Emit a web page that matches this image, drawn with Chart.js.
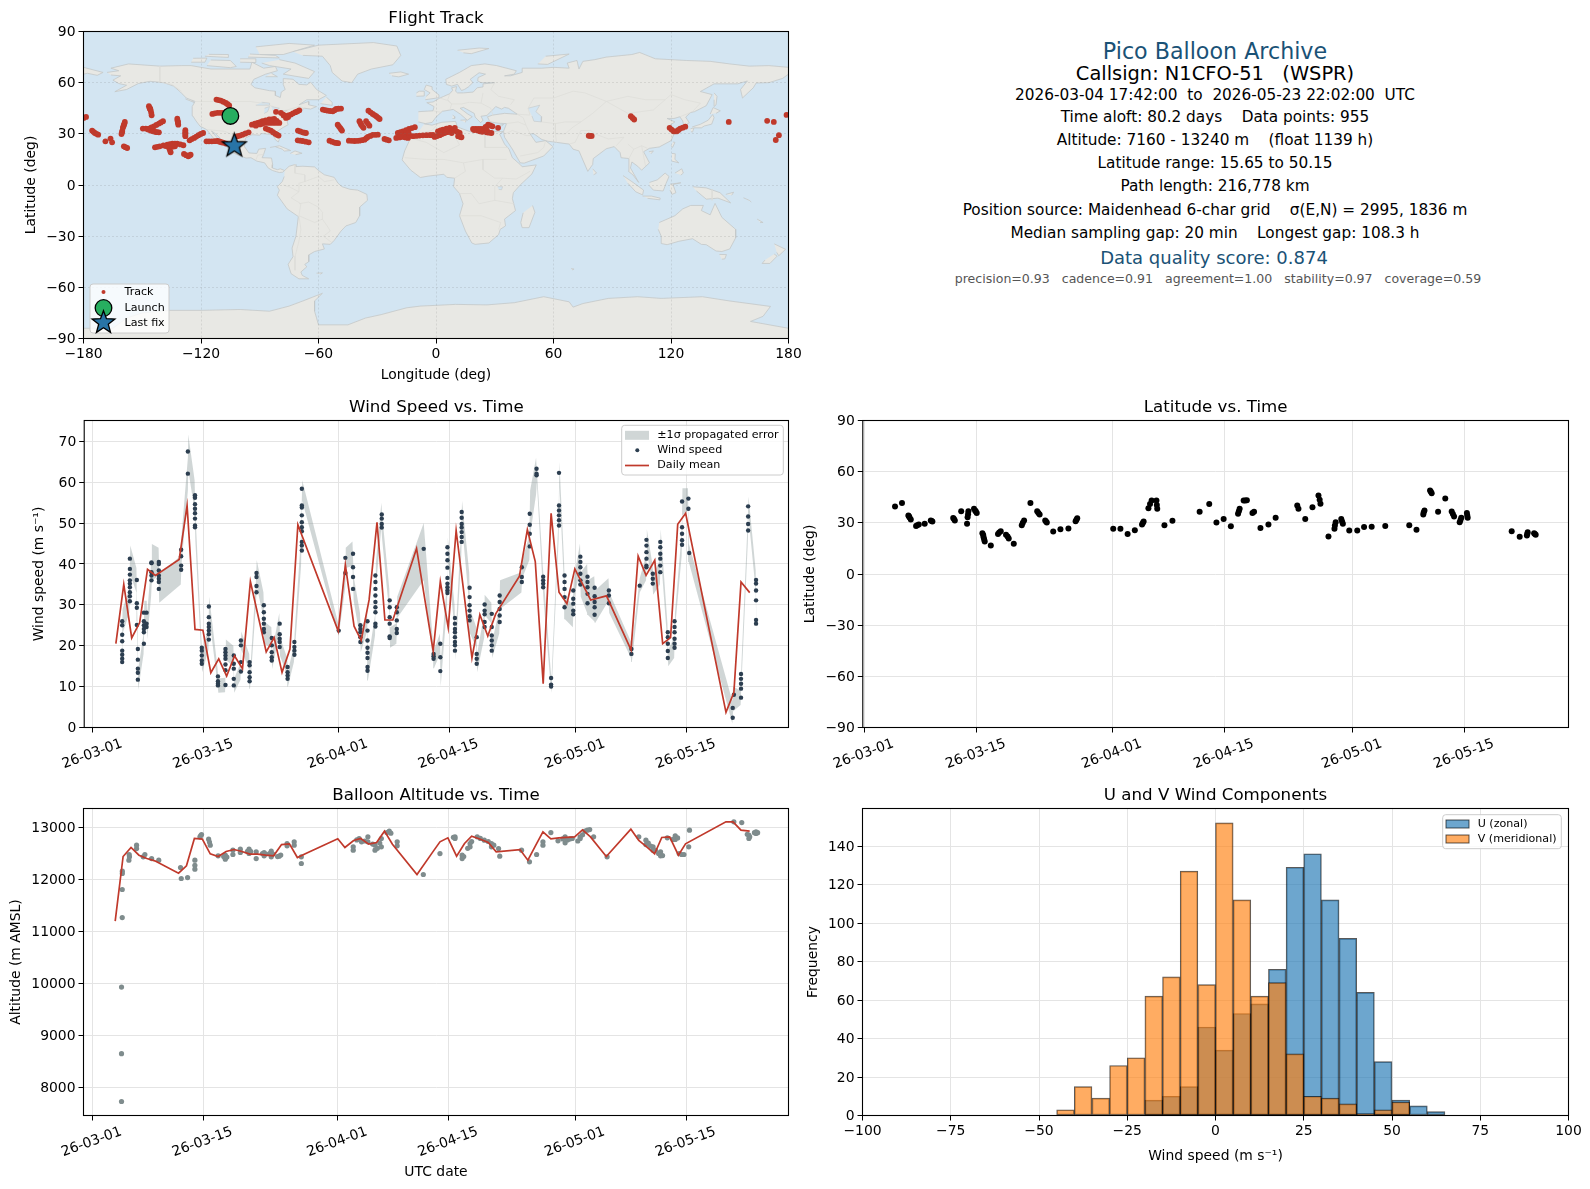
<!DOCTYPE html>
<html>
<head>
<meta charset="utf-8">
<title>Pico Balloon Archive</title>
<script src="https://cdn.jsdelivr.net/npm/chart.js@4/dist/chart.umd.min.js"></script>
<style>
  body { margin: 0; background: #fff; font-family: "DejaVu Sans", sans-serif; }
  canvas { position: absolute; }
  #info { position: absolute; left: 860px; width: 710px; top: 0; text-align: center; white-space: pre; }
  #info div { position: absolute; left: 0; right: 0; transform: translateY(-50%); font-size: 15.3px; color: #000; }
  #info .head { color: #1a5276; }
</style>
</head>
<body>
<div id="info">
  <div class="head" style="top:50.7px;font-size:22.2px">Pico Balloon Archive</div>
  <div style="top:73.3px;font-size:19.4px">Callsign: N1CFO-51   (WSPR)</div>
  <div style="top:94.7px">2026-03-04 17:42:00  to  2026-05-23 22:02:00  UTC</div>
  <div style="top:117.3px">Time aloft: 80.2 days    Data points: 955</div>
  <div style="top:140.3px">Altitude: 7160 - 13240 m    (float 1139 h)</div>
  <div style="top:163.3px">Latitude range: 15.65 to 50.15</div>
  <div style="top:186.3px">Path length: 216,778 km</div>
  <div style="top:209.7px">Position source: Maidenhead 6-char grid    σ(E,N) = 2995, 1836 m</div>
  <div style="top:232.7px">Median sampling gap: 20 min    Longest gap: 108.3 h</div>
  <div class="head" style="top:257px;font-size:18px;right:2px">Data quality score: 0.874</div>
  <div style="top:277.7px;font-size:12.55px;color:#555;left:6px">precision=0.93   cadence=0.91   agreement=1.00   stability=0.97   coverage=0.59</div>
</div>
<script>
// date axis: days since 2026-03-01
const dateTickDays = [0, 14, 31, 45, 61, 75];
const dateTickLabels = ["26-03-01", "26-03-15", "26-04-01", "26-04-15", "26-05-01", "26-05-15"];
const altTicks = [8000, 9000, 10000, 11000, 12000, 13000];

// flight track (lon, lat)
const trackLon = [
  -179.9,-178.7,-175.6,-174.2,-172.5,-168.8,-166.2,-165.4,-160.6,-160.2,-159.9,-159.4,-158.9,-159.4,-157.7,
  -146.6,-146.1,-145.7,-145.4,-145.2,-149.7,-146.6,-144,-141.5,-139.4,-145.7,-143.2,-141.5,-132.1,-131.8,-131.6,
  -128,-128,-128,-125.8,-123.5,-121.3,-118.9,-143.5,-141.1,-137.2,-134.6,-132.1,-129,-136.3,-135.5,-133.3,
  -128.7,-126.5,-125.3,-117.2,-114.5,-111.6,-109.9,-107.3,-101.4,-98.8,-95.7,-114.2,-111.6,-109,
  -112.1,-109.9,-107.3,-105.6,-94,-91.1,-88.6,-85.2,-82.6,-80,-83.4,-86.9,
  -81.7,-79.2,-76.6,-74.1,-71.8,-69.8,-76.6,-86.9,-84.3,-82.1,-80.4,-70.5,-68.1,-66.4,-70.6,-68.1,-65,
  -57.8,-55.3,-52.7,-51,-48.5,-50.2,-49,-48,-54.4,-51.9,-50,-44.5,-41.6,-39.1,-36.5,-34.8,-32.3,-29.7,
  -39.1,-38.2,-37,-35.7,-34,-34.5,-32.3,-30.5,-28.8,-26.3,-24.1,-20.3,-16.9,-14.3,-19.5,-16.9,-13.8,-10.8,
  -15.2,-11.8,-8.4,-4.9,-1.5,-2.7,-0.7,1.9,4.4,7,9.6,1,3.6,7,10.4,12.1,11.3,13,
  18.9,21.5,24.1,26.6,28.8,22.4,25.8,28.3,20.6,24.9,31.7,78.7,99.5,101.2,
  119.3,121.3,123,124.7,127.3,149.5,169.1,172.5,175.1,173.5,179,
  -174.9,-173.4,-160.3,-159.6,-159.1,-158.6,-146.2,-145.9,-148.2,-145.3,-142.8,-140.5,-144.5,-142.4,-147,
  -132,-131.8,-128,-128,-124.7,-122.4,-120.1,-142.3,-139.2,-135.9,-133.3,-130.5,-135.9,-136.8,-138,-134.5,-133.5,-135.5,
  -127.6,-125.9,-115.9,-113,-110.8,-108.6,-100.1,-97.3,-113,-110.3,-111,-108.6,-106.4,
  -92.5,-89.8,-87,-83.9,-81.3,-81.7,-85.1,-88.7,-90,-92,-78,-75.4,-73,-70.8,-77.8,-75.5,-85.6,-83.2,-81.2,
  -69.3,-67.2,-69.3,-66.5,-56.5,-54,-51.8,-49.8,-49.6,-48.5,-53.1,-50.9,-43,-40.3,-37.8,-35.6,-33.5,-31,
  -38.6,-37.6,-34.8,-33.4,-31.4,-29.6,-25.2,-18.6,-15.6,-18.2,-15.3,-12.3,-13.5,-10.1,-6.7,-3.2,-18,-14,
  0.6,3.1,5.7,8.3,2.3,5.3,8.7,11.2,12.2,2,5,8,20.2,22.8,25.3,27.7,21.4,23.6,27,22,26,19.5,79.5,78,100.4,120.3,122.1,123.8,126
];
const trackLat = [
  39.3,39.9,31.9,30.5,29.5,25.6,27.2,25,29.9,31.7,33.5,35.2,37,22.7,21.7,
  46.2,45,43.8,42.3,40.9,33.1,33.1,34.4,36,37.4,31.9,31.1,30.9,38.9,37.2,35.4,
  32.1,30.3,28.6,26.2,27.6,29.2,30.5,22.1,22.7,23.7,24.3,24.3,23.3,21.7,19.2,22.7,
  18.2,16.8,17.8,25.6,25.6,25.8,25.2,24.3,28.6,29.5,30.9,41.7,42.3,42.3,
  50.1,49.5,48.1,46.6,35.4,36.4,37.4,38.4,38.7,36.4,36.4,36.4,
  42.9,42.3,40.3,41.3,42.7,43.8,39.3,33.1,31.9,30.1,29,31.9,30.9,30.5,26.2,25.8,25,
  44.2,43.6,43.2,44.6,44.8,35.4,33.5,31.9,26,24.9,24.5,26,25.8,26,26.6,28.2,29.4,29.5,
  37.4,35.4,33.5,37.4,34.8,43.6,41.7,40.3,38.7,27,26.2,27.6,28.2,27.6,30.5,31.5,32.9,33.9,
  29.5,28.6,29,29.2,29.4,29.2,28.2,29.2,30.5,31.5,33.5,31.5,32.5,33.5,31.5,30.5,28.6,28,
  32.9,32.9,32.9,35.4,34.4,31.5,30.9,30.5,32.5,32.1,33.5,28.8,40.3,38.4,
  33.5,31.5,31.5,33.1,34.2,37,37.6,37,29.2,26.4,41.1,
  31.2,30,31,34.5,36,22.2,45,44.5,33.1,33.8,35.2,36.7,31.5,31,32.5,
  37.8,36.5,31,29.5,26.9,28.4,29.9,22.4,23.2,24,24.3,23.8,20.5,22.7,22.8,22.5,23.5,23,
  17.5,17.3,25.6,25.7,25.5,24.8,29,30.2,42,42.3,49.8,48.8,47.4,
  35.9,36.9,37.9,38.5,37.6,36.4,36.4,35.9,35.5,34.8,41.3,40.8,42,43.2,40.8,39.8,32.5,31,29.5,
  31.4,30.7,26,25.4,43.9,43.4,43.9,44.7,34.4,32.7,25.4,24.7,25.9,25.9,26.3,27.4,28.8,29.4,
  36.4,34.4,36,42.6,41,39.5,26.6,27.9,27.9,31,32.2,33.4,29,28.8,29.1,29.3,29,30.5,
  28.7,29.9,31,32.5,32,33,32.5,31,28.3,30.5,31.5,30.5,32.9,32.9,34,34.9,32,31.2,30.7,32.4,32,32.2,28.8,28.9,39.3,32.5,31.5,32.3,33.6
];
const launchLon = [-105], launchLat = [40.5];
const lastFixLon = [-103], lastFixLat = [23];

// wind speed fixes
const windDays = [
  3.7,3.7,3.7,3.7,3.7,3.7,3.7,3.7,
  4.67,4.67,4.67,4.67,4.67,4.67,4.67,4.67,4.67,
  5.55,5.55,5.55,5.55,
  5.68,5.68,5.68,5.68,5.68,
  6.44,6.44,6.44,6.44,6.44,6.44,
  6.78,6.78,6.78,
  7.4,7.4,7.4,7.4,7.4,
  8.33,8.33,8.33,8.33,8.33,8.33,8.33,
  11.15,11.15,11.15,11.15,
  12,12,
  12.9,12.9,12.9,12.9,12.9,12.9,12.9,12.9,
  13.76,13.76,13.76,13.76,13.76,
  14.65,14.65,14.65,14.65,14.65,14.65,14.65,
  15.8,15.8,15.8,15.8,
  16.75,16.75,16.75,16.75,16.75,16.75,16.75,
  17.8,17.8,17.8,17.8,17.8,
  18.7,18.7,18.7,18.7,
  19.8,19.8,19.8,19.8,19.8,
  20.67,20.67,20.67,20.67,
  21.6,21.6,21.6,21.6,21.6,21.6,
  22.6,22.6,22.6,22.6,22.6,
  23.6,23.6,23.6,23.6,23.6,
  24.6,24.6,24.6,24.6,
  25.46,25.46,25.46,25.46,
  26.4,26.4,26.4,26.4,26.4,26.4,26.4,26.4,26.4,26.4,
  31.06,
  31.9,31.9,
  32.87,32.87,32.87,32.87,
  33.8,33.8,33.8,33.8,33.8,
  34.7,34.7,34.7,34.7,34.7,34.7,34.7,34.7,
  35.7,35.7,35.7,35.7,35.7,35.7,35.7,35.7,35.7,
  36.5,36.5,36.5,36.5,
  37.5,37.5,37.5,37.5,37.5,37.5,
  38.4,38.4,38.4,38.4,38.4,
  41.8,
  43.05,43.05,43.05,
  43.9,43.9,43.9,
  44.8,44.8,44.8,44.8,44.8,44.8,44.8,44.8,44.8,
  45.75,45.75,45.75,45.75,45.75,45.75,45.75,45.75,
  46.6,46.6,46.6,46.6,46.6,46.6,46.6,
  47.6,47.6,47.6,47.6,47.6,47.6,
  48.5,48.5,48.5,48.5,
  49.5,49.5,49.5,49.5,49.5,
  50.4,50.4,50.4,50.4,50.4,50.4,
  51.4,51.4,51.4,51.4,51.4,
  54.2,54.2,54.2,
  55.2,55.2,55.2,55.2,
  56.06,56.06,56.06,
  56.9,56.9,56.9,56.9,
  57.9,57.9,57.9,
  58.9,58.9,58.9,58.9,58.9,58.9,
  59.6,59.6,59.6,59.6,59.6,
  60.7,60.7,60.7,60.7,60.7,
  61.6,61.6,61.6,61.6,61.6,61.6,
  62.5,62.5,62.5,62.5,62.5,
  63.4,63.4,63.4,63.4,63.4,
  65.2,65.2,65.2,
  68.05,68.05,
  69.1,
  69.95,69.95,69.95,69.95,69.95,69.95,
  70.75,70.75,70.75,
  71.7,71.7,71.7,71.7,71.7,71.7,
  72.65,72.65,72.65,72.65,72.65,
  73.5,73.5,73.5,73.5,73.5,73.5,
  74.45,74.45,74.45,74.45,74.45,
  75.25,75.25,75.35,
  80.85,80.85,81,
  81.9,81.9,81.9,81.9,81.9,
  82.8,82.8,82.8,82.8,
  83.8,83.8,83.8,83.8,83.8,83.8
];
const windSpeed = [
  26,25,22.7,21.1,18.8,17.8,16.8,16,
  41.3,38.8,37.4,36,35.2,34.3,33.1,32.1,30.9,
  36.1,30.4,29.3,25.1,
  19.2,16.6,14.4,13.4,11.7,
  20.5,23.3,24.1,25,26,28.1,
  28.1,25.4,24.6,
  40.4,40.2,38,37.2,36,
  40.5,40,38.4,37.2,36.4,35.6,33.9,
  43.5,41.9,39.6,38.6,
  67.5,62.1,
  56.8,56.2,54.6,53.5,52.4,51.1,49.4,49,
  19.5,18.8,17.6,16.4,15.6,
  29.6,27,25.4,24.6,23.7,22.8,21.5,
  12.5,11.3,10.7,10.3,
  19.2,18.4,17.6,16.8,15.4,14,10.4,
  17.6,15.6,14.4,11.9,10.3,
  21.3,20.1,16,13.7,
  16,15.2,13.5,12.3,11.3,
  37.8,36.8,34.6,33.1,
  29.9,28.2,26.6,25.4,24.1,23.3,
  21.9,20.1,18.4,17.2,16.4,
  25.4,22.8,21.7,20.9,19.7,
  14.8,13.5,12.7,11.9,
  20.9,19.7,18.8,17.8,
  58.4,54.3,53.8,51.9,50.2,49,48,45.4,44.5,43.3,
  23.7,
  41.5,37.8,
  42.5,39.2,36.8,33.9,
  25,24.1,23.3,22.1,20.9,
  26,23.7,21.3,19.5,18.3,17,14.8,13.9,
  37.2,35.6,33.9,32.3,30.7,29.4,28.2,25.4,24.7,
  52.1,51.1,49.8,48.9,
  31.1,29.4,27,25.4,22.3,21.9,
  29.4,28.2,26.2,24.1,23.1,
  43.7,
  18,17.4,16.8,
  20.5,17.2,13.8,
  44.1,42.5,40.9,39.1,36.6,35.2,34.3,33.5,32.9,
  26.8,25.4,24.1,23.3,22.1,20.9,20.1,18.8,
  52.7,51.3,49.8,48.9,47.8,46.6,45.4,
  34.2,31.9,29.9,28.6,27.2,26.2,
  22.1,18,16.8,15.6,
  30.1,28.6,27.7,25.8,24.6,
  27.8,24.6,22.5,21.3,20.1,18.8,
  32.3,30.7,29,27.4,25.8,
  39.2,36.8,35.6,
  52.3,49.6,47.4,44.3,
  63.3,62.1,61.7,
  36.9,36,35.2,34.3,
  12.1,10.5,10,
  62.3,54.3,53.1,51.9,50.7,49.4,
  37.2,35.6,33.9,31.9,29.4,
  33.5,31.5,30.3,28.6,27.7,
  41.8,40.5,39.2,37.6,36,35,
  36.9,35.6,34.3,32.7,30.4,
  34.2,32.1,30.7,29.4,27.6,
  33.5,32.3,30.4,
  19.2,18,
  34.7,
  45.9,44.5,42.9,41.3,39.6,39.2,
  37.6,36.4,35.2,
  45.4,44.1,42.5,41.3,39.6,38,
  23.3,22.1,20.5,18.7,17,
  26,24.6,23.3,21.7,20.5,19.5,
  55.3,49,47.4,45.8,44.7,
  56,53.5,42.7,
  4.8,2.4,8,
  13.1,11.9,10.7,9.5,7.3,
  54.1,51.6,49.8,48.2,
  36.1,35.2,33.5,31.1,26.3,25.4
];

// +/- 1 sigma envelope
const bandDays = [
  3.65,3.75,4.6,4.72,5.5,5.55,5.68,5.72,6.4,6.5,6.8,6.85,7.35,7.45,8.3,8.38,11.1,11.2,12,12.05,12.85,12.95,
  13.7,13.8,14.6,14.7,15.75,15.85,16.7,16.8,17.75,17.85,18.65,18.75,19.75,19.85,20.6,20.7,21.55,21.65,22.55,22.65,
  23.55,23.65,24.55,24.65,25.4,25.5,26.3,26.45,31.06,31.9,31.95,32.8,32.95,33.75,33.85,34.65,34.75,35.65,35.75,
  36.45,36.55,37.45,37.55,38.35,38.45,41.8,43,43.1,43.85,43.95,44.75,44.85,45.7,45.8,46.55,46.65,47.55,47.65,
  48.45,48.55,49.45,49.5,50.35,50.45,51.35,51.45,54.15,54.25,55.15,55.25,56,56.1,56.85,56.95,57.85,57.95,58.85,58.95,
  59.55,59.65,60.65,60.75,61.55,61.65,62.45,62.55,63.35,63.45,65.15,65.25,68,68.1,69.1,69.9,70,70.7,70.8,71.65,71.75,
  72.6,72.7,73.45,73.55,74.4,74.5,75.2,75.3,80.8,80.9,81.85,81.95,82.75,82.85,83.75,83.85
];
const bandUpper = [
  18.5,29,34,44.5,39,32,22,14.2,23,31,31,27.6,40,44.9,44,37.5,42,47,66,71.7,60.5,52.5,
  22,18,25,32,14.5,12,12.2,21.5,20,12,15.7,23.5,18,13,36,41,33,26,24.5,18.5,
  28,22,17,13.8,20,23.5,47,60.5,25,41,44,45.5,37,28,23.5,28.5,16,27.5,40,
  55,52,34,24.5,25.5,32,50,20,19,23,16,36,46.5,30,21.5,49,55.5,38,29,
  24.5,18,28,32.5,30.5,21,29,36,38,41,47,58,66,66,39.5,37,14,12,52,65,
  40,32,30,36,45,38,40,36,37,33.5,36.5,33,21,20,36.5,42,48.5,40,37.5,41,48.5,
  25.5,19,22,28,47.5,58.5,58.5,45,6.5,10,9,15.5,51,56.5,38.5,28
];
const bandLower = [
  13.5,23,28,37.5,33,26,16,9.2,18,25,25,21.6,32,36,37,30.5,35,40,58,63,53,45.5,
  17,13.5,19,27,10.5,8.5,8.6,16.5,15,8.5,11.7,19,14,9.5,30,34.5,27,20.5,19.5,14.3,
  23,17.5,12.8,10,16,18.5,39.5,55.5,22.4,34.5,39,39.5,31,22,18.5,23.5,11.5,22.5,34,
  49,46,28,19.5,20.5,26.8,36,16,14.5,18,10,30,41,24,16.5,42,49.5,30,23,
  19.5,13.5,22,27.5,25.5,17,23,29,33,36.5,41,47,57,60,34,31,10,8.5,46,59,
  34,26.5,24.5,31,38.5,32,28,27.5,26,25.5,31,28,17,16,33,36,43,35,32.5,35,42.5,
  20.5,15,17,24,42,52,53,40.5,1,4,5.5,10.5,45,51.5,33.5,23
];

// daily mean wind
const meanWindDays = [
  2.9,3.9,4.9,5.9,6.9,7.9,10.9,11.9,12.9,13.9,14.9,15.9,16.9,17.9,18.9,19.9,21.9,22.9,23.9,24.9,25.9,
  31,31.9,33,33.9,34.9,35.9,36.9,37.9,40.9,43,43.9,44.9,45.9,47.9,48.9,49.9,50.9,53.9,54.9,55.9,56.9,57.9,58.9,59.9,
  60.9,62.9,64.9,68,68.9,69.9,71,72,73,73.9,74.9,80,81,81.9,83
];
const meanWind = [
  20.5,35,21.9,25.6,38.7,37.2,41.1,54.3,24,23.8,13.4,16.8,12.6,17.5,14.4,35.7,18.5,22,13.5,19.2,49.6,
  23.6,39.8,24.8,21.3,31.2,50.2,26.3,26.3,43.8,18.7,35.7,24.4,48.2,17,27.6,22.4,27.8,37,48.4,40.6,10.7,52.4,33.1,30.3,
  38.8,31.2,32.2,19,41.9,37.2,40.9,20.5,22,49.7,52.4,3.7,8.6,35.6,33
];

// latitude fixes
const latDays = [
  3.83,4.7,5.5,5.65,5.8,6.46,6.8,7.54,8.3,8.5,11.1,11.3,12.1,13,12.96,12.9,12.83,13.7,13.9,14.04,
  14.75,14.9,15.04,15.8,16.7,17.04,17.7,17.9,18.04,18.67,19.67,19.8,19.96,20.75,21.6,21.9,22.6,22.8,23.6,24.5,25.5,26.4,26.6,
  31.1,32,32.9,33.8,34.7,34.9,35.5,35.7,35.9,36.5,36.55,36.6,37.5,38.5,
  41.9,43.1,44,44.9,45.8,46.7,46.9,47.6,48.5,49.5,50.5,51.4,54.1,54.25,55.1,56,56.75,56.9,57,58,58.75,58.9,59.6,59.8,
  60.6,61.6,62.45,63.4,65.1,68.1,69,69.85,70,70.7,70.9,71.7,72.6,73.4,73.7,74.4,74.6,75.3,75.4,80.9,81.9,82.8,82.9,83.7,83.9,
  6.6,8.4,11.2,16.85,21.75,22.7,26.5,34.8,46.8,58.8,59.7,69.9,70.8,73.55,74.5,75.35,82.85,83.8,14.85,14.97,13.87,5.57,48.7,47.4,47.8
];
const latValues = [
  39.6,41.7,34.3,33.2,32,28.2,29,29.4,31.4,30.8,32.9,31.4,36.8,36.8,35,33.3,29.4,38.2,37,35.7,
  23.9,21.6,19,16.7,23.5,25.1,23,22,20.8,17.7,28.6,30,31.4,41.7,36.8,34.9,31.4,30.2,24.9,26.3,26.7,31,32.7,
  26.5,26.5,23.5,25.7,29,30.8,38.6,41,43.1,43.1,40.5,38.2,28.6,31.2,
  36.5,41,30.2,32.2,28,35.3,38.2,43.1,35.7,27,29,33,40.2,38.2,32.3,39.2,46,43.5,41.2,22,26.5,30.4,32.3,29.4,
  25.5,25.5,27.5,27.7,28.2,28.6,25.9,34.9,37.2,49,47.4,36.5,44.3,36.7,33.7,30.4,33,35.7,33,25,21.8,22.6,24.5,23.9,23,
  28.6,31.1,32.2,24.3,35.8,30.8,31.8,29.9,36.8,28.5,30.8,36,48.2,35.2,31.7,34.3,23.5,23.4,22.8,20.3,36.9,33.8,36.5,43.1,43.3
];

// altitude fixes
const altDays = [
  3.7,3.7,3.7,3.79,3.79,3.8,3.8,4.63,4.7,4.67,5.6,5.6,6.65,6.44,7.5,8.4,11.15,11.24,12.04,12.96,12.96,12.96,13.8,13.6,14.7,14.9,
  15.9,16.8,16.8,17.76,17.76,18.7,18.7,19.8,19.8,20.7,20.7,21.7,21.7,22.6,22.6,23.6,24.6,24.6,25.5,25.5,26.4,26.4,
  32.95,32.95,33.7,34,34.8,34.8,35.7,35.7,36.5,36.5,37.5,37.2,38.5,38.5,41.8,
  43.9,45.8,45.8,46.7,46.7,47.7,47.7,48.6,49.5,50.4,50.4,51.3,51.45,54.2,55.2,56.1,56.9,56.9,57.9,58.8,59.7,59.7,60.6,61.6,61.6,62.5,63.3,65,
  69,69.9,69.9,70.8,70.8,71.75,71.75,72.6,73.6,73.6,74.4,75.3,75.4,81,82,82.9,82.9,83.8,83.8,
  14.8,13.7,16.6,17,19.6,20,21.5,21.9,22.4,22.8,23.4,23.8,33.4,34.4,35.4,36,36.3,37.7,
  45.6,46.9,47.4,47.9,49,50,50.7,59.4,60,60.3,61.3,61.9,62.2,62.8,70.2,70.5,71.1,71.5,72,73.3,73.9,74.1,74.7,83,83.6,84,82.7
];
const altValues = [
  9930,8650,7730,11268,11807,12115,12160,12371,12435,12480,12660,12595,12480,12435,12403,12371,12230,12019,12037,12371,12273,12198,12865,12820,12775,12660,
  12455,12467,12390,12563,12480,12583,12519,12583,12500,12531,12403,12519,12455,12544,12435,12448,12692,12647,12724,12660,12435,12307,
  12628,12563,12788,12724,12820,12724,12660,12563,12788,12628,12929,12903,12724,12647,12096,
  12499,12820,12790,12467,12403,12692,12628,12820,12756,12692,12628,12595,12448,12563,12339,12480,12724,12660,12903,12743,12820,12705,12788,12820,12790,12948,12820,12435,
  12820,12756,12672,12628,12563,12531,12455,12801,12839,12769,12480,12628,12948,13108,13095,12852,12788,12916,12884,
  12720,12845,12440,12430,12540,12540,12500,12490,12500,12490,12440,12470,12760,12740,12680,12600,12700,12890,
  12810,12440,12600,12730,12790,12730,12660,12780,12760,12780,12740,12860,12930,12960,12700,12640,12560,12500,12460,12770,12800,12500,12480,12820,12900,12900,12870
];

// daily mean altitude
const meanAltDays = [
  2.9,3.9,4.9,5.9,6.9,7.9,10.9,11.9,12.9,13.9,14.9,15.9,16.9,17.9,18.9,19.9,20.9,21.9,22.9,23.9,24.9,25.9,26.9,
  31,31.9,33,33.9,34.9,35.9,36.9,37.9,41,43,43.9,44.9,46,47,47.9,49,50,51,54,55,56,56.9,57.9,58.9,60.9,61.9,62.9,
  64.9,68,69,70,71,71.9,72.9,74,74.9,80,80.9,81.9,83
];
const meanAlt = [
  11198,12442,12615,12467,12403,12358,12121,12262,12788,12775,12493,12442,12538,12576,12538,12487,12487,12467,12455,12672,12685,12422,12493,
  12782,12615,12749,12788,12679,12711,12929,12679,12096,12531,12724,12801,12448,12692,12833,12775,12711,12531,12576,12371,12660,12916,12781,12801,12820,12954,12820,
  12442,12967,12749,12628,12493,12807,12820,12467,12685,13108,13108,12948,12929
];

// wind component histogram, 5 m/s bins
const binCenters = [-47.5,-42.5,-37.5,-32.5,-27.5,-22.5,-17.5,-12.5,-7.5,-2.5,2.5,7.5,12.5,17.5,22.5,27.5,32.5,37.5,42.5,47.5,52.5,57.5,62.5];
const uCounts = [0,0,0,0,0,0,8,10,15,46,34,53,58,76,129,136,112,92,64,28,8,5,2];
const vCounts = [0,3,15,9,26,30,62,72,127,68,152,112,62,69,32,10,9,6,1,3,7,0,0];

// coastlines (lon, lat)
const northAmerica = [[-168,66],[-162,67],[-166,68.5],[-157,71],[-141,69.7],[-130,70],[-125,70],[-115,68],[-108,68],[-95,68],[-94,72],[-88,68.5],[-82,69.5],[-81,67],[-87,65],[-93,62],[-94.5,59],[-92.5,57],[-85,55.3],[-82,55],[-82,52.5],[-79.5,51.3],[-79,54.5],[-77,56],[-78,59],[-78,62.4],[-73,62],[-70,59],[-66,58.7],[-64,60.3],[-61,56],[-56,52.5],[-60,50],[-66,50],[-70,47],[-65,49],[-65,47],[-61,46],[-64,44.5],[-67,45],[-70,43.5],[-70,41.7],[-74,40.5],[-76,37],[-75.5,35.3],[-78,33.8],[-81,31.5],[-80,26.8],[-80.5,25.2],[-82,26.5],[-83,29],[-85,29.7],[-89,30.2],[-90,29.2],[-94,29.5],[-97.3,27.5],[-97.8,22.5],[-95.5,18.8],[-91.5,18.5],[-90.5,21],[-87,21.5],[-88,18],[-88.8,16],[-84,15.8],[-83.4,12],[-83.6,10],[-81,9],[-79.5,9.5],[-77.3,8.5],[-78.3,7.5],[-80,7.3],[-81.5,7.8],[-83.5,8.5],[-85.7,10],[-87.5,13],[-91.5,14],[-94.5,16],[-97,15.8],[-102,18],[-105.5,20],[-105.5,22.5],[-109,26],[-112.5,30],[-114.7,31.7],[-112,28],[-109.5,23],[-112,25],[-115,29.5],[-117.1,32.5],[-120.5,34.5],[-122.5,37.5],[-124.2,40.5],[-124.5,46],[-123,49],[-127.5,51],[-130.5,54.5],[-134,58],[-139,60],[-146,60.8],[-152,59.5],[-158,56],[-164,54.7],[-158,58.5],[-162,59.5],[-165,61.5],[-161,64],[-166,64.5]];
const greenland = [[-73,78.2],[-60,82],[-32,83.5],[-20,81.5],[-18,76],[-22,70.5],[-33,68],[-40,65],[-43,60],[-48,61],[-53,66],[-54,70],[-58,75.5],[-68,76]];
const southAmerica = [[-77.3,8.5],[-75,11],[-72,12],[-71.5,10.8],[-68,11],[-62,10.6],[-60,8.5],[-57,6],[-52,4.5],[-50,1],[-48,-1],[-44,-2.5],[-40,-3],[-35.3,-5.5],[-35,-9],[-39,-13],[-39,-18],[-41,-22],[-46,-24],[-48.5,-27],[-52,-32.5],[-54,-34.8],[-58,-34.5],[-57,-37.5],[-62,-39],[-65,-41],[-65,-45],[-67,-46.5],[-66,-48],[-69,-51],[-68.3,-53],[-65,-55],[-70,-55],[-74,-52],[-75.5,-46.5],[-73,-42],[-73.5,-37],[-71.5,-30],[-70.3,-18.5],[-76,-14],[-81,-6],[-80,-3],[-81,-1],[-78.5,2],[-77.5,5]];
const africa = [[-6,35.8],[-2,35.1],[3,36.8],[10,37.3],[11,34],[15,32.3],[19.5,30.5],[20,32.8],[25,31.7],[32,31.2],[34.3,31.3],[32.5,29.8],[35,24],[37.3,21],[39,16],[43,12],[44,10.7],[51.2,11.8],[49,6.5],[43,0],[39.5,-4.5],[39,-8],[40.6,-15],[35,-20],[35.5,-24],[32.8,-26],[32,-29],[27,-34],[20,-34.8],[18.3,-34],[15,-27],[12,-18],[13.8,-11],[12,-5],[9,-1],[9.5,4],[5.5,4.5],[4,6.3],[-4,5.2],[-8,4.4],[-13,8.8],[-17.3,14.7],[-16,20],[-13,27.5],[-9.7,30]];
const eurasia = [[-9,43],[-1.5,43.5],[-1,46],[-4.7,48.3],[-1.5,48.7],[2,51],[4,52],[7,53.5],[8.5,55.5],[8,57],[10.5,57.7],[10,55],[11,54],[14,54],[19,54.5],[21,57],[24,57.5],[24,59.3],[30,60],[23,60],[21.3,61],[21.5,63],[25.3,65],[22,65.8],[17.5,62],[18.8,60],[16.5,57.5],[14.5,56],[13,55.4],[11,59],[8,58],[5.3,59],[5,62],[12,66],[18,70],[25,71],[31,70],[41,67],[40,65],[35,64],[38,64],[44,66],[44,68.5],[54,68.5],[60,69],[68,68.5],[67,71.5],[72,73],[73,68],[75,72.5],[81,73.5],[87,75],[100,76.5],[104,77.7],[112,74],[128,73],[140,72.5],[150,71],[160,69.7],[170,70],[180,69],[180,65],[177,62.5],[170,60],[163.5,59.8],[162,57],[156.5,51],[155.5,56],[159,61],[154,59.3],[142,59.3],[135,54.8],[141,53],[138,46.5],[132,43],[130,42.5],[127.5,39.8],[129.3,36.5],[126.5,34.5],[126,37.5],[124.5,40],[121.5,39],[118,39],[122,37],[119.3,35],[122,31],[120,26],[114,22.3],[109,21.5],[106,19.5],[109,13],[105,8.7],[103,11],[100,13.5],[99.3,10],[103.5,1.5],[100.5,6],[98.3,8],[98.5,15.5],[94.5,16],[94,19],[91,22.5],[87,21.3],[80.3,15.5],[80,12],[77.5,8],[73,20],[70,21],[68,24],[61.5,25],[57,25.7],[54,26.7],[50,30],[48,30],[51,25],[56,26],[59.7,22.5],[55,17],[45,12.8],[43,13],[39,21],[35,28],[34.5,31.5],[36,36],[32,36.2],[27.5,37],[26.3,40],[29,41],[35,42],[41.5,41.5],[37,45],[35,45.5],[33.5,44.5],[30.5,46],[28,43],[26,40.8],[23,40.3],[24,38],[22.8,36.5],[20,39.8],[19.5,42],[14,45.5],[12.3,45],[16,41.8],[18.5,40],[16,38],[12.5,41.5],[8.8,44.3],[3.2,43.2],[0,39.8],[-2,36.7],[-5.5,36],[-9,37]];
const australia = [[114,-22],[122,-18],[126,-14],[130,-12],[136.5,-12],[135.5,-15],[140,-17.5],[142.5,-10.8],[146,-19],[153,-26],[153,-31],[150,-37.5],[146,-39],[143,-38.7],[138,-35],[135.5,-34.8],[131,-31.5],[124,-33],[118,-35],[115,-34.3],[115,-30],[113.5,-26]];
const antarctica = [[-180,-84],[-165,-84],[-158,-78],[-150,-75],[-136,-73.5],[-120,-73.5],[-100,-73],[-85,-74],[-75,-71],[-68,-68],[-58,-63.5],[-62,-68],[-62,-74],[-60,-82],[-45,-82],[-36,-78],[-28,-76],[-15,-72],[-8,-71],[10,-70],[26,-70.3],[40,-69],[55,-65.5],[68,-68.5],[70,-71.6],[75,-69.5],[88,-66.5],[103,-65.5],[115,-66.5],[136,-65.5],[150,-68],[170.8,-71.2],[167,-77],[160.6,-80],[180,-84],[180,-90],[-180,-90]];
const islands = [
  [[-180,69],[-175,67.5],[-170,66],[-173,64.3],[-178,65.5],[-180,65]],
  [[-80,73.5],[-72,71.5],[-67,69],[-62,66.5],[-65,62.5],[-72,63.8],[-78,65],[-74,68],[-85,70],[-89,71.5]],
  [[-117,70],[-105,68.8],[-102,69.5],[-105,73],[-115,73.3]],
  [[-125,72],[-118,72],[-117,74.4],[-124,74.3]],
  [[-90,76.5],[-78,76.5],[-62,82],[-75,83],[-92,81]],
  [[-96,75],[-80,74.5],[-82,76],[-95,76.8]],
  [[-100,72],[-92,71.8],[-92,74],[-100,74]],
  [[-118,75.5],[-106,74.8],[-106,76.5],[-116,76.6]],
  [[-59,47.7],[-53,46.7],[-53,48.5],[-56,51.5]],
  [[-87,63.5],[-81,63.5],[-84,65.5]],
  [[-128,50.5],[-123.5,48.4],[-125,50]],
  [[-84.8,22],[-80,23],[-74.2,20.2],[-77.5,19.9],[-78.5,21],[-82,22.4]],
  [[-74.4,18.5],[-72,20],[-68.4,18.6],[-71.7,17.8]],
  [[49.3,-12],[50.5,-16],[47.5,-25],[44,-25],[43.3,-22],[44.5,-16.3]],
  [[-5.5,50],[1.5,51.2],[1.5,52.8],[-2,56],[-2,57.6],[-5,58.6],[-6,56],[-3,54],[-5,52]],
  [[-10,52],[-6,52.2],[-6,55],[-8.5,55],[-10,54]],
  [[-24,65.5],[-18,66.3],[-14,65],[-19,63.4],[-22.5,64]],
  [[11,79],[22,80.3],[27,80],[18,77],[14,77.5]],
  [[52,71],[57,70.7],[68,76.8],[56,75.5]],
  [[12.5,38],[15.5,38.2],[15,36.7]],
  [[8.5,41],[9.7,40],[9.5,39],[8.4,39]],
  [[32.5,35],[34.5,35.5],[33.5,34.6]],
  [[80,9.5],[82,7],[80.5,6]],
  [[95.5,5.5],[100,2],[106,-3],[105.5,-5.8],[102,-4],[98,1]],
  [[105.5,-6.5],[110,-6.5],[114.5,-7.7],[114.3,-8.7],[108,-7.8]],
  [[109,1.5],[113,3],[117,7],[119,5],[117.5,1],[116,-3.5],[111,-3],[109,-0.5]],
  [[119.5,0.5],[125,1.3],[121,0.3],[122.5,-4.5],[120.5,-5.5],[119.5,-3]],
  [[131,-1],[138,-1.7],[145,-4.5],[150.5,-10.5],[144,-7.7],[138,-8.3],[133,-3.5]],
  [[120.5,18.5],[122.2,18.3],[122,15],[124,13],[120.5,14]],
  [[122,7],[125.5,9.5],[126.3,7],[125,5.8]],
  [[121,25.2],[122,25],[120.8,22],[120.1,23]],
  [[108.7,19.5],[111,20],[109.8,18.3]],
  [[130.8,34],[135,35.6],[139,38],[141.3,41.3],[142,39.5],[140.8,35.7],[137,34.6],[135.5,33.5],[131.5,33.5]],
  [[130,33],[131.7,33.5],[131,31],[130.2,31.3]],
  [[140,41.5],[141.5,45.4],[145.2,43.5],[143,42]],
  [[142,54],[143.5,52],[143,47],[142,46],[142,50]],
  [[144.7,-40.7],[148.3,-40.8],[147.5,-43.3],[146,-43.5]],
  [[172.7,-34.5],[178.5,-37.7],[175,-41.5],[174,-39.5]],
  [[172.7,-40.5],[174.2,-41.7],[170.5,-46],[166.5,-46],[168,-44]],
  [[69,-49],[70.5,-49.3],[69.5,-49.8]],
  [[-61,-51.7],[-58,-51.5],[-59,-52.3]],
  [[148,-5.5],[152,-4.2],[151,-6]],
  [[157,-7.5],[160,-9],[161,-10]],
  [[164,-20],[167,-22],[165.5,-22]]
];
const lakes = [
  [[47,45],[53,46.8],[51,43],[54,40],[53.8,37],[50,37.4],[49,40.5]],
  [[-92,46.8],[-85,46.8],[-85,48],[-89,48.5]],
  [[-87.7,42],[-86,43],[-85,46],[-87.5,45]],
  [[-84,46],[-80,45],[-82,43],[-83.5,44]],
  [[-83,41.6],[-79,42.8],[-76,43.6],[-79.5,43.6],[-83,42.2]],
  [[31.5,-1],[34,-1],[33.5,-2.8],[32,-2.5]]
];
const borders = [
  [[-141,69.7],[-141,60.3],[-135,59],[-130,55]],
  [[-123,49],[-95,49],[-89,48],[-83,46],[-82,42.5],[-76,44],[-70,46],[-67,45]],
  [[-117.1,32.5],[-108,31.5],[-105,30],[-101,29.5],[-97.3,26]],
  [[-92,14.6],[-91,17.5],[-88,18]],
  [[-70,-18],[-69,-11],[-74,-7.5],[-70,-4],[-70,1],[-67,2],[-60,5],[-57,2],[-52,3]],
  [[-70,-18],[-62,-22],[-58,-20],[-58,-16],[-60,-13],[-65,-10],[-70,-11]],
  [[-58,-20],[-55,-25],[-54,-27],[-57.5,-30],[-53.5,-33.5]],
  [[-70,-18],[-69,-26],[-70,-33],[-72,-42],[-72,-50]],
  [[-78,0],[-75,-1],[-70,-4]],
  [[-72,12],[-72,7],[-67,6],[-67,2]],
  [[-9,30],[-2,32],[1,36]],
  [[-13,27.5],[-5,25],[4,19],[12,23.5],[9,30],[11,34]],
  [[25,31.7],[25,22],[37,22]],
  [[-16,16],[-5,15],[4,15],[14,13],[24,15],[36,15]],
  [[14,13],[15,8],[9.5,4]],
  [[24,15],[24,9],[30,4],[34,4],[41,3.5],[48,8]],
  [[12,-5],[18,-5],[22,-11],[30,-9],[30,-1],[34,4]],
  [[12,-18],[23,-18],[33,-22],[32,-26]],
  [[30,-9],[40,-11]],
  [[-1.5,43.5],[3,42.5]],
  [[2,51],[6,49.5],[8,47.5],[7,44]],
  [[7,53.5],[6,50],[8,47.5],[13,47.5],[17,48.5],[23,48],[24,54]],
  [[30,60],[28,56],[32,52],[40,50],[38,47]],
  [[23,48],[28,45],[29,41]],
  [[41.5,41.5],[48,41],[47,45],[50,51],[60,51],[70,55],[76,54],[87,49],[98,52],[107,50],[117,50],[120,53],[127,50],[135,48],[131,43]],
  [[53.8,37],[61,36],[61,30],[61.5,25]],
  [[48,30],[46,35],[44.5,39.5],[41.5,41.5]],
  [[36,36],[42,37],[46,35]],
  [[34.5,29.5],[39,32],[46,29],[48,29]],
  [[43,17],[52,19],[55,22],[56,26]],
  [[61,36],[66,37],[74,37],[80,42],[87,49]],
  [[61,30],[66,30],[70,34],[74,37]],
  [[68,24],[71,25],[74,32],[79,32],[81,30],[88,27],[96,28],[92,23]],
  [[98,24],[101,21],[105,23],[108,21.5]],
  [[98.5,15.5],[101,21]],
  [[105,23],[106,17],[107,11]],
  [[87,49],[98,42],[111,44],[117,50]],
  [[124.5,40],[130,42.5]],
  [[141,-2.5],[141,-9]]
];

Chart.defaults.font.family = "'DejaVu Sans', sans-serif";
Chart.defaults.color = "#000";

const pts = (xs, ys) => xs.map((x, i) => ({ x, y: ys[i] }));
const lonLat = a => a.map(p => ({ x: p[0], y: p[1] }));
const minus = v => String(v).replace("-", "\u2212");

// five point star for the last fix marker
function starCanvas(r) {
  const c = document.createElement("canvas");
  c.width = c.height = Math.ceil(2 * r + 4);
  const g = c.getContext("2d");
  drawStar(g, c.width / 2, c.height / 2, r);
  return c;
}
function drawStar(g, x, y, r) {
  g.beginPath();
  for (let i = 0; i < 10; i++) {
    const a = -Math.PI / 2 + i * Math.PI / 5;
    const q = i % 2 ? r * 0.42 : r;
    g.lineTo(x + q * Math.cos(a), y + q * Math.sin(a));
  }
  g.closePath();
  g.fillStyle = "#2874a6";
  g.strokeStyle = "#000";
  g.lineWidth = 1.3;
  g.fill();
  g.stroke();
}

// spines, plot background and the legend inside the axes
function frame(canvasLeft, canvasTop, background, legend) {
  return {
    id: "frame",
    beforeDatasetsDraw(chart) {
      if (!background) return;
      const a = chart.chartArea;
      chart.ctx.fillStyle = background;
      chart.ctx.fillRect(a.left, a.top, a.width, a.height);
    },
    afterDraw(chart) {
      const g = chart.ctx, a = chart.chartArea;
      g.save();
      g.strokeStyle = "#000";
      g.lineWidth = 1.1;
      g.strokeRect(a.left, a.top, a.width, a.height);
      if (legend) {
        g.translate(-canvasLeft, -canvasTop);
        const b = legend.box;
        g.beginPath();
        g.roundRect(b[0], b[1], b[2] - b[0], b[3] - b[1], 3);
        g.fillStyle = "rgba(255,255,255,0.8)";
        g.fill();
        g.strokeStyle = "#cccccc";
        g.lineWidth = 1;
        g.stroke();
        g.font = "11.1px 'DejaVu Sans'";
        g.textBaseline = "middle";
        legend.items.forEach(it => {
          legend.swatch[it.kind](g, it);
          g.fillStyle = "#000";
          g.fillText(it.label, legend.textX, it.y);
        });
      }
      g.restore();
    }
  };
}

function makeChart(rect, canvasBox, type, datasets, opts) {
  const c = document.createElement("canvas");
  const [cl, ct, cr, cb] = canvasBox;
  c.width = cr - cl;
  c.height = cb - ct;
  c.style.left = cl + "px";
  c.style.top = ct + "px";
  c.style.width = c.width + "px";
  c.style.height = c.height + "px";
  document.body.appendChild(c);
  const [l, t, r, b] = rect;
  const gridColor = opts.gridColor || "#e4e4e4";
  const gridDash = opts.gridDash || [];
  const gridZ = opts.gridZ === undefined ? -1 : opts.gridZ;
  const axisBase = { border: { display: false, dash: gridDash }, grid: { color: gridColor, tickColor: "#000", tickLength: 5, tickWidth: 1, z: gridZ, offset: false } };
  const x = Object.assign({}, axisBase, { type: "linear", offset: false, afterFit: s => { s.height = cb - b; } }, opts.x);
  const y = Object.assign({}, axisBase, { type: "linear", afterFit: s => { s.width = l - cl; } }, opts.y);
  x.ticks = Object.assign({ font: { size: 13.9 }, padding: 3, autoSkip: false, includeBounds: false, maxRotation: 0 }, opts.x.ticks);
  y.ticks = Object.assign({ font: { size: 13.9 }, padding: 3, autoSkip: false, includeBounds: false, labelOffset: 1 }, opts.y.ticks);
  return new Chart(c, {
    type,
    data: { datasets },
    options: {
      responsive: false,
      animation: false,
      devicePixelRatio: 1,
      events: [],
      layout: { padding: { right: cr - r } },
      plugins: {
        legend: { display: false },
        tooltip: { enabled: false },
        title: { display: true, text: opts.title, fullSize: false, color: "#000", font: { size: 16.67, weight: "normal", lineHeight: 1.2 }, padding: { top: t - ct - 22.5, bottom: 2.5 } }
      },
      scales: { x, y }
    },
    plugins: [frame(cl, ct, opts.background, opts.legend)]
  });
}

const axisTitle = (text) => ({ display: true, text, font: { size: 13.9 }, padding: 0, color: "#000" });
const dateAxis = (extra) => Object.assign({
  min: -1.1, max: 87.9,
  afterBuildTicks: s => { s.ticks = dateTickDays.map(v => ({ value: v })); },
  ticks: { callback: (v, i) => dateTickLabels[i], minRotation: 20, maxRotation: 20, labelOffset: 29 }
}, extra);

// Flight track
const landShapes = [antarctica, northAmerica, greenland, southAmerica, africa, eurasia, australia].concat(islands);
const mapSets = [];
landShapes.forEach(s => mapSets.push({ data: lonLat(s), showLine: true, fill: "shape", backgroundColor: "#e8e8e4", borderColor: "#c4c8c8", borderWidth: 0.8, pointRadius: 0, order: 20 }));
lakes.forEach(s => mapSets.push({ data: lonLat(s), showLine: true, fill: "shape", backgroundColor: "#d3e5f2", borderColor: "#c4c8c8", borderWidth: 0.6, pointRadius: 0, order: 15 }));
borders.forEach(s => mapSets.push({ data: lonLat(s), showLine: true, fill: false, borderColor: "#dcdcd8", borderWidth: 0.7, pointRadius: 0, order: 10 }));
mapSets.push({ data: pts(trackLon, trackLat), pointRadius: 2.9, pointBorderWidth: 0, backgroundColor: "#c0392b", order: 3 });
mapSets.push({ data: pts(launchLon, launchLat), pointRadius: 8.3, pointBorderWidth: 1.3, pointBorderColor: "#000", backgroundColor: "#27ae60", order: 2 });
mapSets.push({ data: pts(lastFixLon, lastFixLat), pointStyle: starCanvas(12.5), pointRadius: 12, order: 1 });

makeChart([83.5, 31.5, 788.5, 338.5], [23, 5, 813, 384], "scatter", mapSets, {
  title: "Flight Track",
  background: "#d3e5f2",
  gridColor: "rgba(110,110,110,0.17)",
  gridDash: [2, 2],
  gridZ: 1,
  x: { min: -180, max: 180, title: axisTitle("Longitude (deg)"), ticks: { stepSize: 60, callback: minus } },
  y: { min: -90, max: 90, title: axisTitle("Latitude (deg)"), ticks: { stepSize: 30, callback: minus } },
  legend: {
    box: [90, 284, 169, 333],
    textX: 124.5,
    items: [
      { kind: "dot", label: "Track", y: 292 },
      { kind: "launch", label: "Launch", y: 308 },
      { kind: "star", label: "Last fix", y: 322.7 }
    ],
    swatch: {
      dot(g, it) { g.beginPath(); g.arc(103.5, it.y, 2, 0, 7); g.fillStyle = "#c0392b"; g.fill(); },
      launch(g, it) { g.beginPath(); g.arc(103.5, it.y, 8.3, 0, 7); g.fillStyle = "#27ae60"; g.fill(); g.strokeStyle = "#000"; g.lineWidth = 1.3; g.stroke(); },
      star(g, it) { drawStar(g, 103.5, it.y, 12); }
    }
  }
});

// Wind speed
makeChart([83.5, 420.5, 788.5, 727.5], [30, 394, 813, 790], "scatter", [
  { data: pts(bandDays, bandUpper), showLine: true, fill: 1, backgroundColor: "rgba(125,142,142,0.36)", borderWidth: 0, pointRadius: 0, order: 5 },
  { data: pts(bandDays, bandLower), showLine: true, fill: false, borderWidth: 0, pointRadius: 0, order: 5 },
  { data: pts(windDays, windSpeed), pointRadius: 2.2, pointBorderWidth: 0, backgroundColor: "#2c3e50", order: 3 },
  { data: pts(meanWindDays, meanWind), showLine: true, fill: false, borderColor: "#c0392b", borderWidth: 1.7, pointRadius: 0, order: 1 }
], {
  title: "Wind Speed vs. Time",
  x: dateAxis(),
  y: { min: 0, max: 75.1, title: axisTitle("Wind speed (m s\u207B\u00B9)"), ticks: { stepSize: 10 } },
  legend: {
    box: [621.7, 425.3, 783.3, 475],
    textX: 657.3,
    items: [
      { kind: "band", label: "\u00B11\u03C3 propagated error", y: 435.3 },
      { kind: "dot", label: "Wind speed", y: 450.3 },
      { kind: "line", label: "Daily mean", y: 465.5 }
    ],
    swatch: {
      band(g, it) { g.fillStyle = "rgba(125,142,142,0.36)"; g.fillRect(625, it.y - 4.5, 24, 9); },
      dot(g, it) { g.beginPath(); g.arc(637.3, it.y, 2, 0, 7); g.fillStyle = "#2c3e50"; g.fill(); },
      line(g, it) { g.beginPath(); g.moveTo(625, it.y); g.lineTo(649, it.y); g.strokeStyle = "#c0392b"; g.lineWidth = 1.7; g.stroke(); }
    }
  }
});

// Latitude
makeChart([862.5, 420.5, 1568.5, 727.5], [802, 394, 1589, 790], "scatter", [
  { data: pts(latDays, latValues), pointRadius: 3, pointBorderWidth: 0, backgroundColor: "#000" }
], {
  title: "Latitude vs. Time",
  x: dateAxis({ min: -0.2, max: 88 }),
  y: { min: -90, max: 90, title: axisTitle("Latitude (deg)"), ticks: { stepSize: 30, callback: minus } }
});

// Altitude
makeChart([83.5, 808.5, 788.5, 1115.5], [8, 782, 813, 1181], "scatter", [
  { data: pts(altDays, altValues), pointRadius: 2.6, pointBorderWidth: 0, backgroundColor: "#7f8c8d", order: 3 },
  { data: pts(meanAltDays, meanAlt), showLine: true, fill: false, borderColor: "#c0392b", borderWidth: 1.7, pointRadius: 0, order: 1 }
], {
  title: "Balloon Altitude vs. Time",
  x: dateAxis({ title: axisTitle("UTC date") }),
  y: { min: 7461, max: 13365, title: axisTitle("Altitude (m AMSL)"),
       afterBuildTicks: s => { s.ticks = altTicks.map(v => ({ value: v })); },
       ticks: { callback: v => String(v) } }
});

// U and V histogram
const barStyle = { grouped: false, barPercentage: 1, categoryPercentage: 1, borderWidth: 1, borderSkipped: false };
makeChart([862.5, 808.5, 1568.5, 1115.5], [805, 782, 1589, 1165], "bar", [
  Object.assign({ data: pts(binCenters, uCounts), backgroundColor: "rgba(31,119,180,0.65)", borderColor: "rgba(0,0,0,0.65)", order: 2 }, barStyle),
  Object.assign({ data: pts(binCenters, vCounts), backgroundColor: "rgba(255,127,14,0.65)", borderColor: "rgba(0,0,0,0.65)", order: 1 }, barStyle)
], {
  title: "U and V Wind Components",
  x: { min: -100, max: 100, title: axisTitle("Wind speed (m s\u207B\u00B9)"), ticks: { stepSize: 25, callback: minus } },
  y: { min: 0, max: 159.5, title: axisTitle("Frequency"), ticks: { stepSize: 20 } },
  legend: {
    box: [1442.7, 814.7, 1561.3, 848.7],
    textX: 1477.7,
    items: [
      { kind: "u", label: "U (zonal)", y: 824 },
      { kind: "v", label: "V (meridional)", y: 839 }
    ],
    swatch: {
      u(g, it) { g.fillStyle = "rgba(31,119,180,0.65)"; g.fillRect(1446, it.y - 4, 23, 8); g.strokeStyle = "rgba(0,0,0,0.65)"; g.lineWidth = 1; g.strokeRect(1446, it.y - 4, 23, 8); },
      v(g, it) { g.fillStyle = "rgba(255,127,14,0.65)"; g.fillRect(1446, it.y - 4, 23, 8); g.strokeStyle = "rgba(0,0,0,0.65)"; g.lineWidth = 1; g.strokeRect(1446, it.y - 4, 23, 8); }
    }
  }
});
</script>
</body>
</html>
